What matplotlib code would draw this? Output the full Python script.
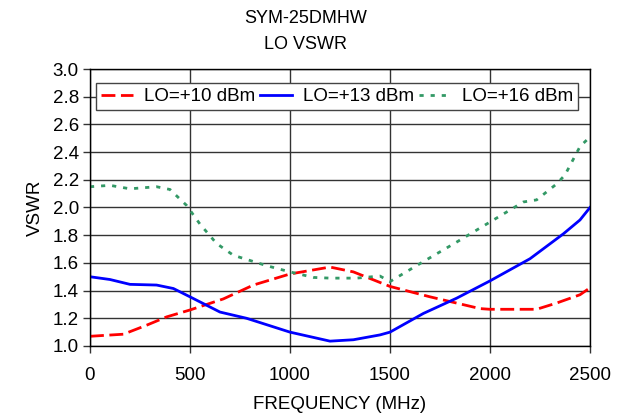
"""
SYM-25DMHW LO VSWR vs frequency, three LO drive levels
"""
import numpy as np
import matplotlib.pyplot as plt

plt.rcParams['font.family'] = ['Liberation Sans', 'DejaVu Sans']

# values
freq_10 = [0, 167, 283, 383, 500, 667, 817, 1000, 1200, 1317, 1500, 1700,
           1950, 2000, 2233, 2333, 2450, 2500]
vswr_10 = [1.07, 1.085, 1.15, 1.21, 1.26, 1.34, 1.44, 1.52, 1.57, 1.535, 1.43,
           1.355, 1.27, 1.265, 1.265, 1.31, 1.37, 1.42]

freq_13 = [0, 100, 200, 333, 417, 500, 650, 783, 1000, 1200, 1317, 1450, 1500,
           1667, 1833, 2000, 2200, 2367, 2450, 2500]
vswr_13 = [1.50, 1.48, 1.445, 1.44, 1.415, 1.355, 1.245, 1.20, 1.10, 1.035,
           1.045, 1.08, 1.10, 1.235, 1.345, 1.47, 1.63, 1.81, 1.91, 2.00]

freq_16 = [0, 100, 200, 333, 400, 483, 550, 633, 717, 883, 1000, 1117, 1200,
           1333, 1450, 1500, 1650, 1833, 2000, 2167, 2233, 2333, 2375, 2450, 2500]
vswr_16 = [2.15, 2.16, 2.135, 2.15, 2.13, 2.015, 1.88, 1.74, 1.655, 1.58,
           1.535, 1.495, 1.49, 1.49, 1.505, 1.465, 1.595, 1.75, 1.895, 2.04,
           2.055, 2.17, 2.235, 2.44, 2.51]

x_ticks = [0, 500, 1000, 1500, 2000, 2500]
y_ticks = [1.0, 1.2, 1.4, 1.6, 1.8, 2.0, 2.2, 2.4, 2.6, 2.8, 3.0]

fs = 13.5

fig = plt.figure(figsize=(6.24, 4.15), dpi=100)
ax = fig.add_axes([0.1442, 0.1663, 0.8013, 0.6674])

ax.plot(freq_10, vswr_10, color='#ff0000', lw=2.0, dashes=(5, 2),
        label='LO=+10 dBm')
ax.plot(freq_13, vswr_13, color='#0000ff', lw=2.0, label='LO=+13 dBm')
ax.plot(freq_16, vswr_16, color='#339966', lw=2.0, dashes=(1.5, 2.5),
        label='LO=+16 dBm')

ax.set_xlim(0, 2500)
ax.set_ylim(1.0, 3.0)
ax.set_xticks(x_ticks)
ax.set_yticks(y_ticks)
ax.set_yticklabels([f'{v:.1f}' for v in y_ticks])
ax.grid(True, color='#333333', lw=1.0)
ax.set_axisbelow(True)
for s in ax.spines.values():
    s.set_color('black')
    s.set_linewidth(1.0)
ax.tick_params(labelsize=fs, length=5, width=1.0, color='#333333', pad=3)
ax.tick_params(axis='x', pad=10)

ax.set_xlabel('FREQUENCY (MHz)', fontsize=fs, labelpad=9)
ax.set_ylabel('VSWR', fontsize=fs, labelpad=6)

fig.text(0.49, 0.955, 'SYM-25DMHW', ha='center', va='center', fontsize=13)
fig.text(0.49, 0.893, 'LO VSWR', ha='center', va='center', fontsize=13)

leg = ax.legend(loc='center', bbox_to_anchor=(0.494, 0.90), ncol=3,
                fontsize=fs, frameon=True, fancybox=False, framealpha=1,
                edgecolor='#444444', handlelength=1.7, handletextpad=0.6,
                columnspacing=0.25, borderpad=0.25, borderaxespad=0)
leg.get_frame().set_linewidth(1.0)

fig.savefig('out.png', dpi=100)
